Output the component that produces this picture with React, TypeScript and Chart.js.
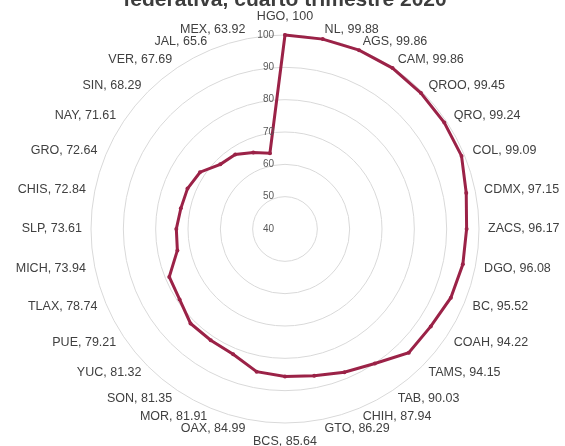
import React, { useEffect, useRef } from "react";
import { Chart, registerables } from "chart.js";

Chart.register(...registerables);

const TITLE_TEXT = "federativa, cuarto trimestre 2020";

const states = [
  "HGO", "NL", "AGS", "CAM", "QROO", "QRO", "COL", "CDMX", "ZACS", "DGO", "BC",
  "COAH", "TAMS", "TAB", "CHIH", "GTO", "BCS", "OAX", "MOR", "SON", "YUC", "PUE",
  "TLAX", "MICH", "SLP", "CHIS", "GRO", "NAY", "SIN", "VER", "JAL", "MEX",
];

const values = [
  100, 99.88, 99.86, 99.86, 99.45, 99.24, 99.09, 97.15, 96.17, 96.08, 95.52,
  94.22, 94.15, 90.03, 87.94, 86.29, 85.64, 84.99, 81.91, 81.35, 81.32, 79.21,
  78.74, 73.94, 73.61, 72.84, 72.64, 71.61, 68.29, 67.69, 65.6, 63.92,
];

const scaleMin = 40;
const scaleMax = 100;
const scaleStep = 10;

const LINE_COLOR = "#9B2247";
const FONT = "'Liberation Sans', Arial, sans-serif";

// Draws the radial tick labels to the left of the vertical axis (as in the reference)
const leftTickLabels = {
  id: "leftTickLabels",
  afterDraw(chart: any) {
    const scale = chart.scales.r;
    if (!scale) return;
    const ctx = chart.ctx;
    ctx.save();
    ctx.font = `10px ${FONT}`;
    ctx.fillStyle = "#595959";
    ctx.textAlign = "right";
    ctx.textBaseline = "middle";
    scale.ticks.forEach((t: any) => {
      const d = scale.getDistanceFromCenterForValue(t.value);
      ctx.fillText(String(t.value), scale.xCenter - 11, scale.yCenter - d);
    });
    ctx.restore();
  },
};

export default function App() {
  const ref = useRef<HTMLCanvasElement | null>(null);

  useEffect(() => {
    if (!ref.current) return;
    const chart = new Chart(ref.current, {
      type: "radar",
      data: {
        labels: states,
        datasets: [
          {
            data: values,
            borderColor: LINE_COLOR,
            backgroundColor: LINE_COLOR,
            borderWidth: 3,
            pointRadius: 2,
            pointBorderWidth: 0,
            pointBackgroundColor: LINE_COLOR,
            fill: false,
            tension: 0,
          },
        ],
      },
      options: {
        responsive: false,
        animation: false,
        devicePixelRatio: 1,
        layout: { padding: { left: 5, right: 0, top: 0, bottom: 0 }, autoPadding: false },
        plugins: {
          legend: { display: false },
          tooltip: { enabled: false },
          title: {
            display: true,
            text: TITLE_TEXT,
            color: "#3d3d3d",
            font: { family: FONT, size: 21, weight: "bold", lineHeight: 1.2 },
            padding: { top: -12.6, bottom: -3.6 },
          },
        },
        scales: {
          r: {
            min: scaleMin,
            max: scaleMax,
            angleLines: { display: false },
            grid: { circular: true, color: "#d9d9d9", lineWidth: 1 },
            ticks: {
              display: false,
              stepSize: scaleStep,
            },
            pointLabels: {
              display: true,
              color: "#404040",
              padding: (ctx: any) => (ctx.index === 0 || ctx.index === 16 ? 11 : 9),
              font: (ctx: any) => ({
                family: FONT,
                size: 12.5,
                lineHeight: ctx.index === 0 || ctx.index === 16 ? 1.2 : 0.05,
              }),
              callback: (label: string, index: number) => `${label}, ${values[index]}`,
            },
          },
        },
      },
      plugins: [leftTickLabels],
    });
    return () => chart.destroy();
  }, []);

  return (
    <div style={{ position: "fixed", left: -35, top: 0, width: 635, height: 449, background: "#fff" }}>
      <canvas ref={ref} width={635} height={449} style={{ display: "block" }} />
    </div>
  );
}
